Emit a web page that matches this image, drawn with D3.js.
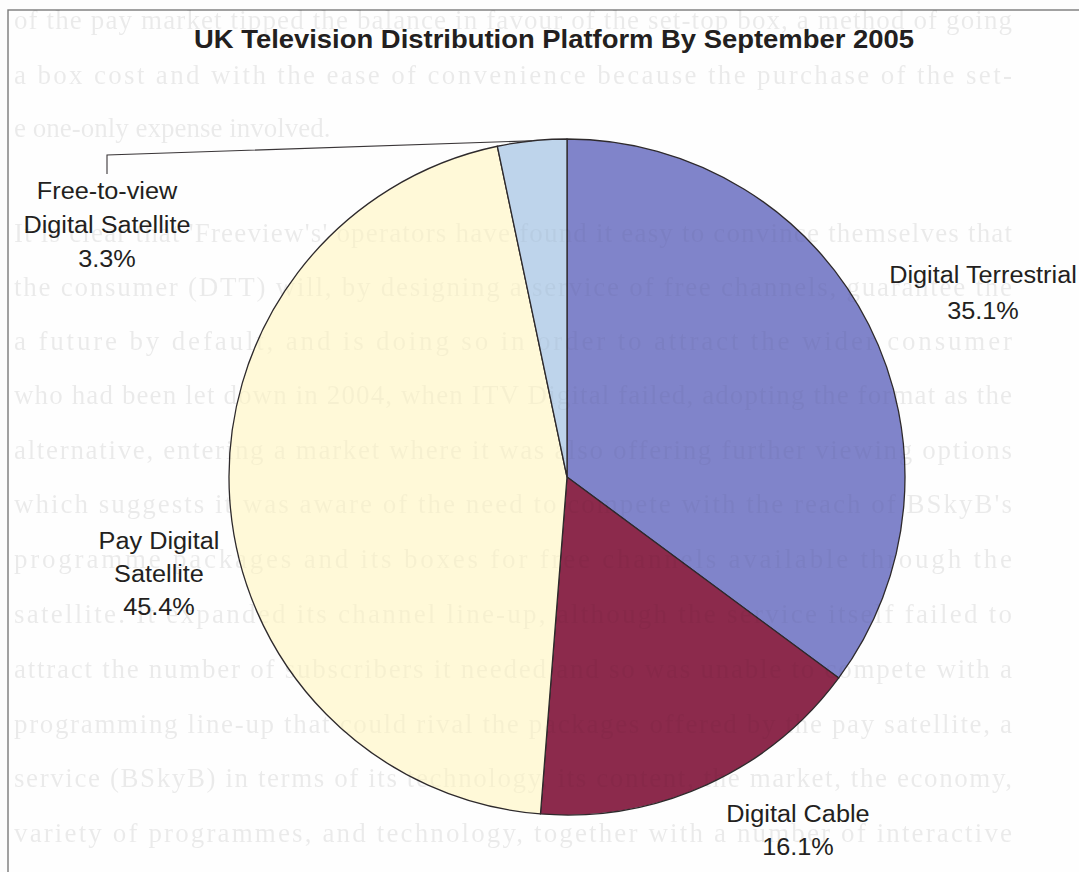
<!DOCTYPE html>
<html>
<head>
<meta charset="utf-8">
<script src="https://cdn.jsdelivr.net/npm/d3@7"></script>
<style>
  html, body { margin: 0; padding: 0; background: #fdfdfd; }
  svg { display: block; }
</style>
</head>
<body>
<svg id="chart" width="1079" height="872"></svg>
<script>
// ---- data ----
const categories = ["Digital Terrestrial", "Digital Cable", "Pay Digital Satellite", "Free-to-view Digital Satellite"];
const shares = [35.1, 16.1, 45.4, 3.3];
const labelLines = [["Digital Terrestrial"], ["Digital Cable"], ["Pay Digital", "Satellite"], ["Free-to-view", "Digital Satellite"]];
const sliceColors = ["#8084ca", "#8c2a4c", "#fff9d8", "#bed4eb"];
const chartTitle = "UK Television Distribution Platform By September 2005";

// printed page text running behind the figure
const pageText = [
  { t: "of the pay market tipped the balance in favour of the set-top box, a method of going", full: true },
  { t: "a box cost and with the ease of convenience because the purchase of the set-", full: true },
  { t: "e  one-only expense involved.", full: false },
  null,
  { t: "It is clear that 'Freeview's' operators have found it easy to convince themselves that", full: true },
  { t: "the consumer (DTT) will, by designing a service of free channels, guarantee the", full: true },
  { t: "a future by default, and is doing so in order to attract the wider consumer", full: true },
  { t: "who had been let down in 2004, when ITV Digital failed, adopting the format as the", full: true },
  { t: "alternative, entering a market where it was also offering further viewing options", full: true },
  { t: "which suggests it was aware of the need to compete with the reach of BSkyB's", full: true },
  { t: "programme packages and its boxes for free channels available through the", full: true },
  { t: "satellite. It expanded its channel line-up, although the service itself failed to", full: true },
  { t: "attract the number of subscribers it needed and so was unable to compete with a", full: true },
  { t: "programming line-up that could rival the packages offered by the pay satellite, a", full: true },
  { t: "service (BSkyB) in terms of its technology, its content, the market, the economy,", full: true },
  { t: "variety of programmes, and technology, together with a number of interactive", full: true }
];

// ---- layout ----
const W = 1079, H = 872;
const cx = 567, cy = 477, R = 338;
const labelAnchors = [
  { x: 983, y: 283, lh: 36 },
  { x: 798, y: 822, lh: 33 },
  { x: 159, y: 549, lh: 33 },
  { x: 107, y: 199, lh: 34 }
];
const textStretch = 1.075;
const pageBaselines = [29, 84, 137, null, 242, 296, 350, 404, 459, 513, 568, 623, 678, 733, 787, 842];
const pageLeft = 14, pageRight = 1012;

const svg = d3.select("#chart");

const defs = svg.append("defs");
defs.append("filter").attr("id", "soft")
  .append("feGaussianBlur").attr("stdDeviation", 0.7);
// page text is weaker where it crosses the coloured slices
const mask = defs.append("mask").attr("id", "paperMask")
  .attr("maskUnits", "userSpaceOnUse")
  .attr("x", 0).attr("y", 0).attr("width", W).attr("height", H);
mask.append("rect").attr("width", W).attr("height", H).attr("fill", "#fff");
mask.append("circle").attr("cx", cx).attr("cy", cy).attr("r", R).attr("fill", "#6e6e6e");

// frame of the figure
svg.append("rect")
  .attr("x", 8).attr("y", 10)
  .attr("width", W + 20).attr("height", H + 20)
  .attr("fill", "#fefefe")
  .attr("stroke", "#7a7a7a").attr("stroke-width", 1.4);

// ---- pie ----
const pie = d3.pie().sort(null).value(d => d);
const arcs = pie(shares);
const arc = d3.arc().innerRadius(0).outerRadius(R);

const g = svg.append("g").attr("transform", `translate(${cx},${cy})`);
g.selectAll("path.slice")
  .data(arcs)
  .join("path")
  .attr("class", "slice")
  .attr("d", arc)
  .attr("fill", (d, i) => sliceColors[i])
  .attr("stroke", "#2e2a2c")
  .attr("stroke-width", 1.3)
  .attr("stroke-linejoin", "round");

// ---- page text printed across the figure ----
const pageG = svg.append("g")
  .attr("mask", "url(#paperMask)")
  .append("g")
  .attr("font-family", "'Liberation Serif', 'DejaVu Serif', serif")
  .attr("font-size", 27)
  .attr("fill", "#000")
  .attr("fill-opacity", 0.08)
  .attr("filter", "url(#soft)");
pageText.forEach((line, i) => {
  if (!line) return;
  const t = pageG.append("text")
    .attr("x", pageLeft)
    .attr("y", pageBaselines[i])
    .text(line.t);
  if (line.full) {
    t.attr("textLength", pageRight - pageLeft).attr("lengthAdjust", "spacing");
  }
});

// ---- title ----
const title = svg.append("text")
  .attr("x", 554).attr("y", 48)
  .attr("text-anchor", "middle")
  .attr("font-family", "'Liberation Sans', Arial, sans-serif")
  .attr("font-weight", "bold")
  .attr("font-size", 25.5)
  .attr("fill", "#231f20")
  .text(chartTitle);
title.attr("textLength", title.node().getComputedTextLength() * textStretch)
  .attr("lengthAdjust", "spacingAndGlyphs");

// ---- leader line for the small slice ----
const small = arcs[3];
const mid = (small.startAngle + small.endAngle) / 2;
const edge = [cx + R * Math.sin(mid), cy - R * Math.cos(mid)];
const la = labelAnchors[3];
svg.append("path")
  .attr("d", d3.line()([[la.x, la.y - 25], [la.x, la.y - 44], edge]))
  .attr("fill", "none")
  .attr("stroke", "#3a3638")
  .attr("stroke-width", 1.1);

// ---- slice labels ----
const labG = svg.append("g")
  .attr("font-family", "'Liberation Sans', Arial, sans-serif")
  .attr("font-size", 23.5)
  .attr("fill", "#231f20")
  .attr("text-anchor", "middle");

arcs.forEach((a, i) => {
  const anc = labelAnchors[i];
  const lines = labelLines[i].concat([d3.format(".1f")(shares[i]) + "%"]);
  lines.forEach((s, k) => {
    const t = labG.append("text")
      .attr("x", anc.x)
      .attr("y", anc.y + k * anc.lh)
      .text(s);
    t.attr("textLength", t.node().getComputedTextLength() * textStretch)
      .attr("lengthAdjust", "spacingAndGlyphs");
  });
});
</script>
</body>
</html>
